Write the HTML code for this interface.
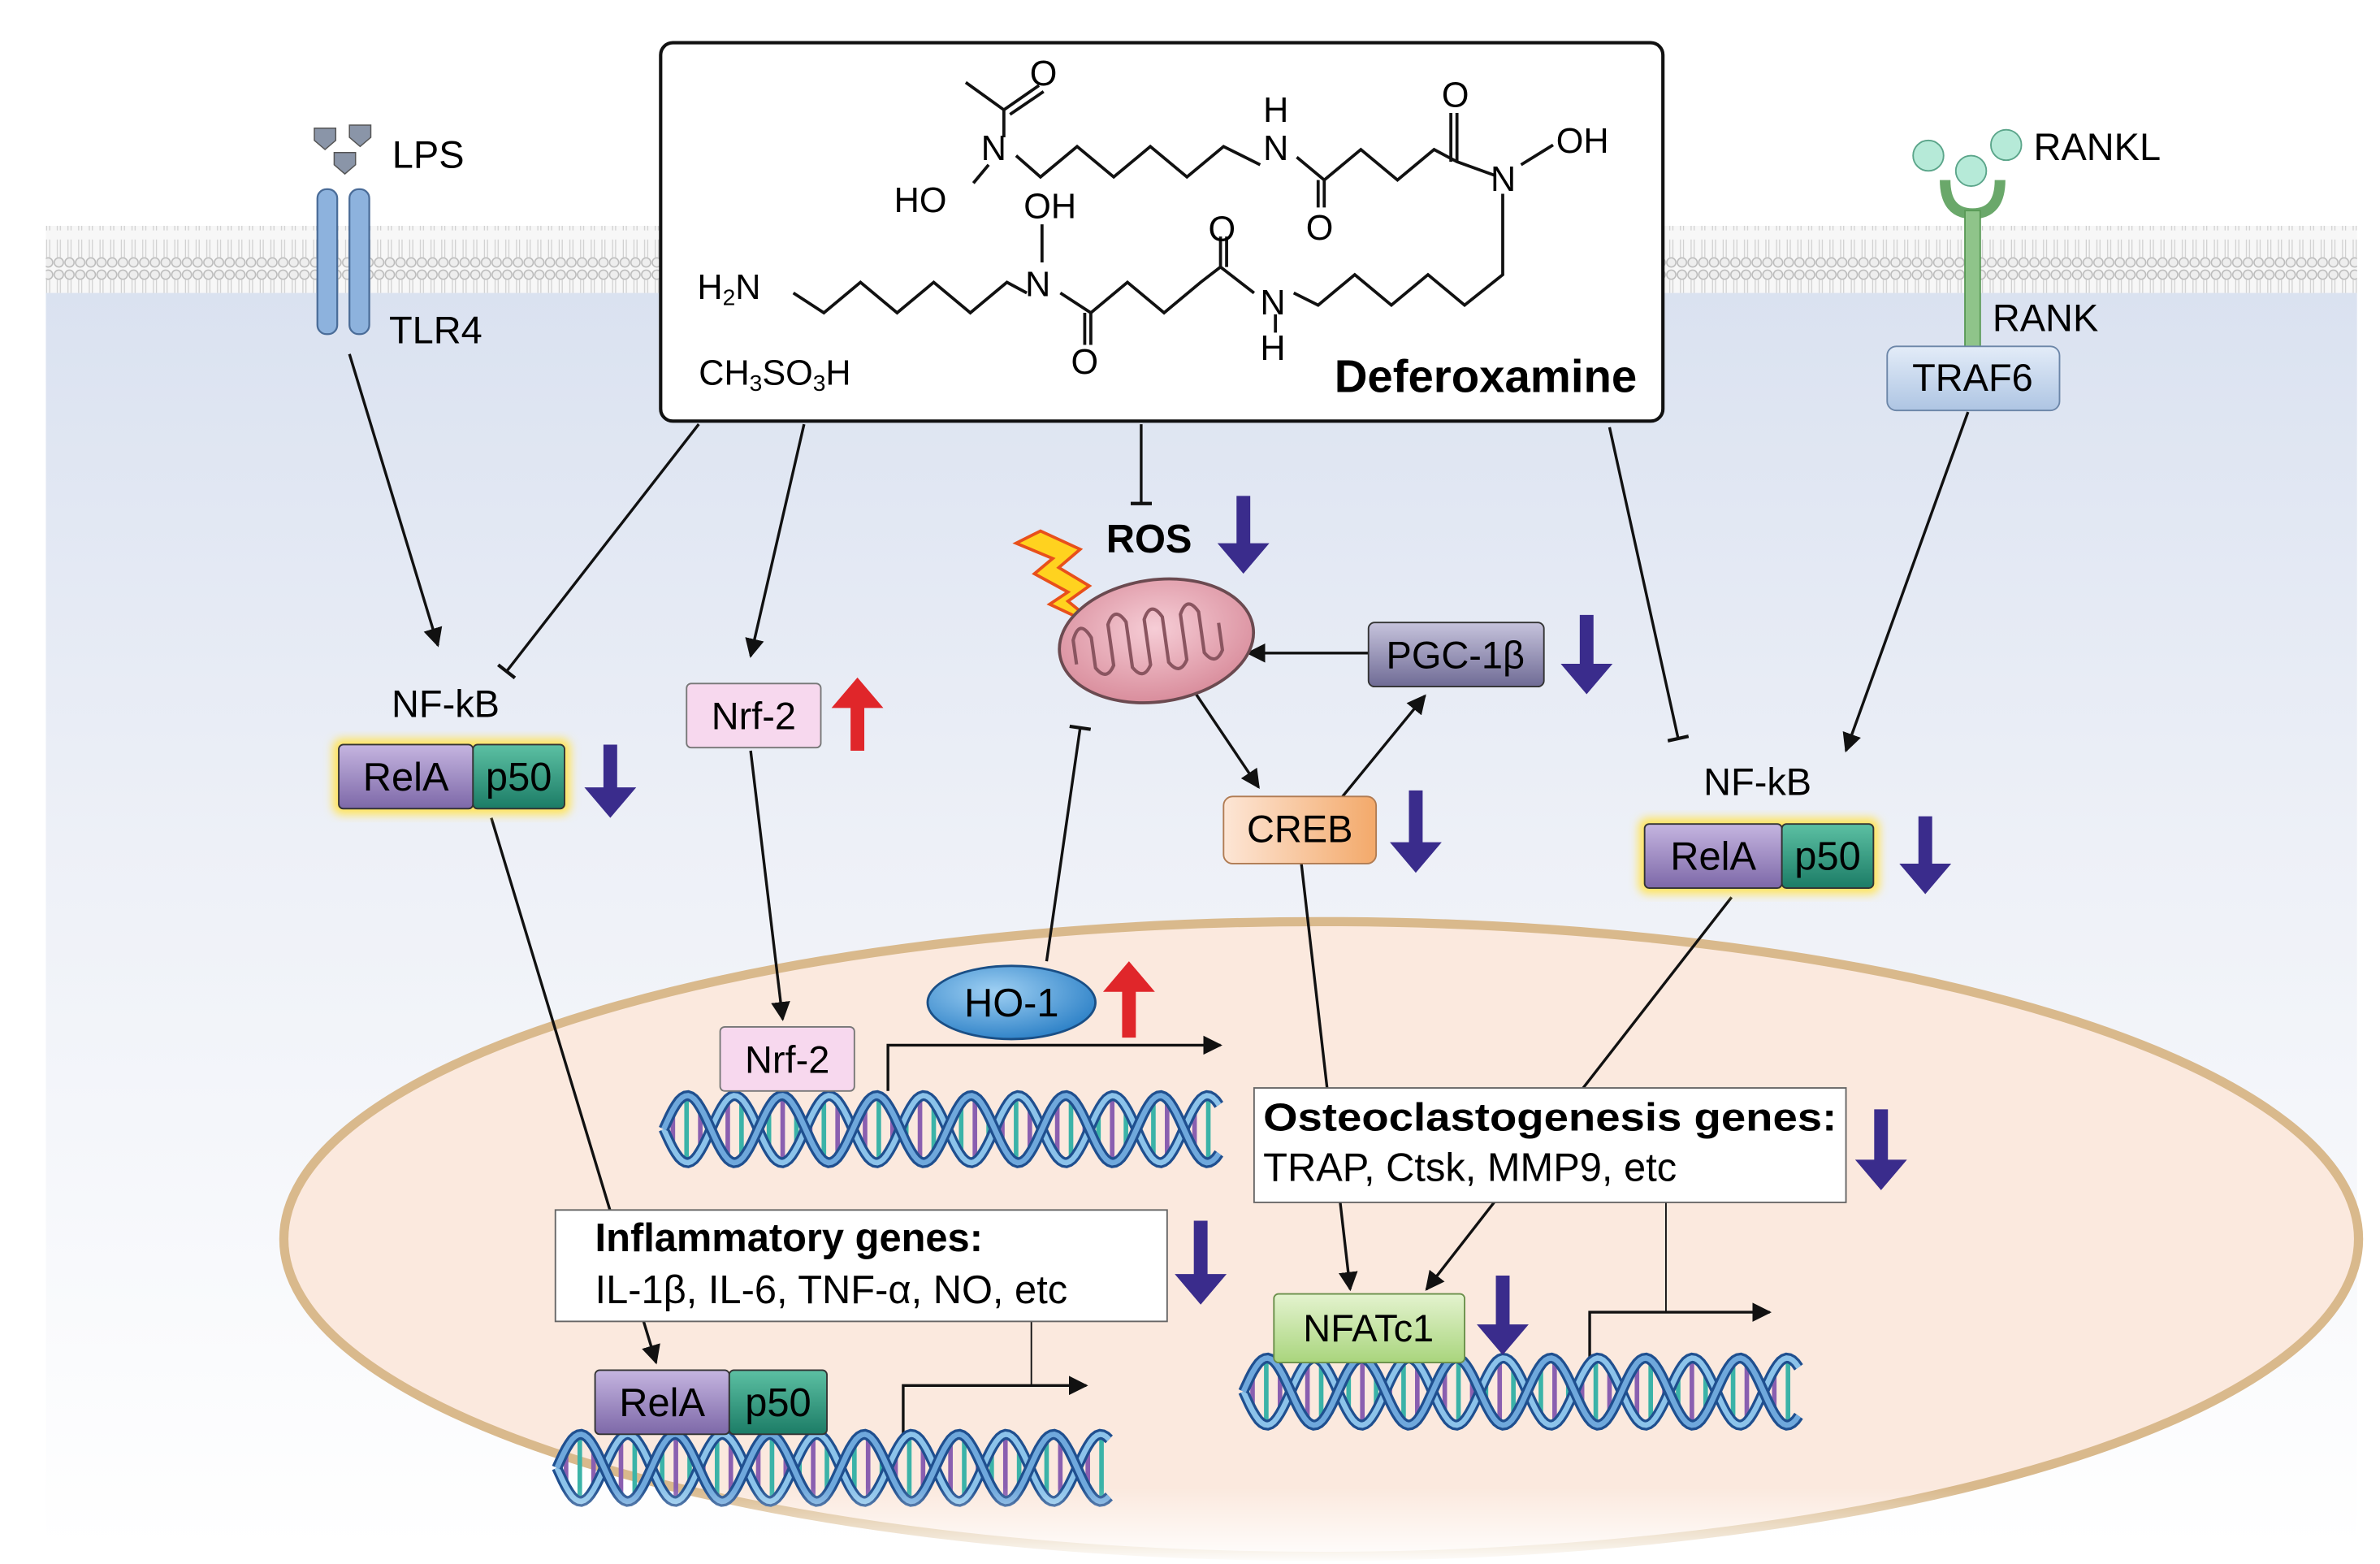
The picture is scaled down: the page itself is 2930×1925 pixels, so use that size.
<!DOCTYPE html>
<html><head><meta charset="utf-8"><style>
html,body{margin:0;padding:0;background:#fff}
svg{display:block}
text{font-family:"Liberation Sans",sans-serif}
</style></head><body>
<svg id="s" width="2930" height="1925" viewBox="0 0 1560 1025" xmlns="http://www.w3.org/2000/svg">
<defs>
<linearGradient id="cyto" x1="0" y1="0" x2="0" y2="1">
<stop offset="0" stop-color="#d9e1f0"/><stop offset="0.45" stop-color="#edf0f7"/><stop offset="1" stop-color="#ffffff"/>
</linearGradient>
<linearGradient id="fade" x1="0" y1="0" x2="0" y2="1"><stop offset="0" stop-color="#fff" stop-opacity="0"/><stop offset="1" stop-color="#fff" stop-opacity="1"/></linearGradient>
<linearGradient id="pgc" x1="0" y1="0" x2="0" y2="1"><stop offset="0" stop-color="#c6c3dc"/><stop offset="1" stop-color="#6f6b95"/></linearGradient>
<linearGradient id="creb" x1="0" y1="0" x2="1" y2="0"><stop offset="0" stop-color="#fde6d6"/><stop offset="1" stop-color="#f3a96a"/></linearGradient>
<linearGradient id="nfat" x1="0" y1="0" x2="0" y2="1"><stop offset="0" stop-color="#e4f3cf"/><stop offset="1" stop-color="#a9d57d"/></linearGradient>
<linearGradient id="rela" x1="0" y1="0" x2="0" y2="1"><stop offset="0" stop-color="#c5b5e0"/><stop offset="1" stop-color="#7d68a8"/></linearGradient>
<linearGradient id="p50" x1="0" y1="0" x2="0" y2="1"><stop offset="0" stop-color="#5cc0a3"/><stop offset="1" stop-color="#1c7c66"/></linearGradient>
<linearGradient id="traf" x1="0" y1="0" x2="0" y2="1"><stop offset="0" stop-color="#e3ecf8"/><stop offset="1" stop-color="#aec5e3"/></linearGradient>
<radialGradient id="ho" cx="0.4" cy="0.35" r="0.7"><stop offset="0" stop-color="#9fd0f3"/><stop offset="1" stop-color="#2a7fc6"/></radialGradient>
<radialGradient id="mito" cx="0.5" cy="0.4" r="0.6"><stop offset="0" stop-color="#f6cdd6"/><stop offset="1" stop-color="#d98d9c"/></radialGradient>
<marker id="ar" viewBox="0 0 10 10" refX="9" refY="5" markerWidth="7" markerHeight="7" orient="auto"><path d="M0,0L10,5L0,10z" fill="#111"/></marker>
<marker id="tee" viewBox="0 0 10 10" refX="5" refY="5" markerWidth="14" markerHeight="14" orient="auto" markerUnits="userSpaceOnUse"><path d="M5,0V10" stroke="#111" stroke-width="1.6"/></marker>
<filter id="glow"><feGaussianBlur stdDeviation="3"/></filter>
<pattern id="lip" width="7" height="44" patternUnits="userSpaceOnUse">
<circle cx="3.5" cy="4" r="3" fill="#eee" stroke="#bbb" stroke-width="0.8"/>
<circle cx="3.5" cy="40" r="3" fill="#eee" stroke="#bbb" stroke-width="0.8"/>
<path d="M2.5,7V19M4.5,7V19M2.5,25V37M4.5,25V37" stroke="#ccc" stroke-width="0.6"/>
</pattern>
</defs>
<rect x="30" y="170" width="1515" height="845" fill="url(#cyto)"/>
<rect x="30" y="148" width="1515" height="44" fill="#f7f7f7"/>
<rect x="30" y="148" width="1515" height="44" fill="url(#lip)"/>
<ellipse cx="866" cy="812" rx="680" ry="208" fill="#fbe9de" stroke="#d9b98c" stroke-width="6"/>

<!-- LPS / TLR4 -->
<g fill="#8a95a8" stroke="#555" stroke-width="0.8">
<path d="M206,84h14v8l-7,6l-7,-6z"/><path d="M229,82h14v8l-7,6l-7,-6z"/><path d="M219,100h14v8l-7,6l-7,-6z"/>
</g>
<text x="257" y="110" font-size="25">LPS</text>
<rect x="208" y="124" width="13" height="95" rx="6" fill="#8db2dd" stroke="#4a6c98" stroke-width="1.2"/>
<rect x="229" y="124" width="13" height="95" rx="6" fill="#8db2dd" stroke="#4a6c98" stroke-width="1.2"/>
<text x="255" y="225" font-size="25">TLR4</text>

<!-- RANKL / RANK -->
<circle cx="1264" cy="102" r="10" fill="#b6ead8" stroke="#5ba58a"/><circle cx="1292" cy="112" r="10" fill="#b6ead8" stroke="#5ba58a"/><circle cx="1315" cy="95" r="10" fill="#b6ead8" stroke="#5ba58a"/>
<text x="1333" y="105" font-size="25">RANKL</text>
<path d="M1275,118 q0,22 18,22 q18,0 18,-22" fill="none" stroke="#6aa86a" stroke-width="7"/>
<rect x="1288" y="138" width="10" height="92" fill="#8fc48a" stroke="#5a9a57"/>
<text x="1306" y="217" font-size="25">RANK</text>
<rect x="1237" y="227" width="113" height="42" rx="6" fill="url(#traf)" stroke="#6c86a8"/>
<text x="1293" y="256" font-size="25" text-anchor="middle">TRAF6</text>

<!-- Deferoxamine box -->
<rect x="433" y="28" width="657" height="248" rx="8" fill="#fff" stroke="#111" stroke-width="2.2"/>
<g fill="none" stroke="#111" stroke-width="2">
<path d="M633,54 L658,72 L681,56 M662,75 L684,60 M658,72 L658,90"/>
<path d="M648,108 L638,120"/>
<path d="M666,102 L682,116 L706,96 L730,116 L754,96 L778,116 L802,96 L826,108"/>
<path d="M850,103 L868,118 L892,98 L916,118 L940,98 L955,106 L980,115"/>
<path d="M868,118 V136 M864,118 V136"/>
<path d="M955,106 V74 M951,106 V74"/>
<path d="M997,108 L1018,95"/>
<path d="M985,127 V180 L960,200 L936,180 L912,200 L888,180 L864,200 L848,192"/>
<path d="M520,192 L540,205 L564,185 L588,205 L612,185 L636,205 L660,185 L673,192"/>
<path d="M683,147 V172"/>
<path d="M695,192 L715,205 L739,185 L763,205 L787,185 L800,175 L822,192"/>
<path d="M715,205 V226 M711,205 V226"/>
<path d="M800,175 V155 M804,175 V155"/>
<path d="M836,206 V218"/>
</g>
<g font-size="23">
<text x="675" y="56">O</text>
<text x="643" y="105">N</text>
<text x="586" y="139">HO</text>
<text x="828" y="80">H</text>
<text x="828" y="105">N</text>
<text x="856" y="157">O</text>
<text x="945" y="70">O</text>
<text x="977" y="125">N</text>
<text x="1020" y="100">OH</text>
<text x="671" y="143">OH</text>
<text x="672" y="194">N</text>
<text x="457" y="196">H<tspan font-size="15" dy="4">2</tspan><tspan dy="-4">N</tspan></text>
<text x="702" y="245">O</text>
<text x="792" y="158">O</text>
<text x="826" y="206">N</text>
<text x="826" y="236">H</text>
<text x="458" y="252">CH<tspan font-size="15" dy="4">3</tspan><tspan dy="-4">SO</tspan><tspan font-size="15" dy="4">3</tspan><tspan dy="-4">H</tspan></text>
</g>
<text x="1073" y="257" font-size="30" font-weight="bold" text-anchor="end">Deferoxamine</text>

<!-- connectors -->
<g stroke="#111" stroke-width="1.8" fill="none">
<path d="M229,232 L287,423" marker-end="url(#ar)"/>
<path d="M458,278 L332,440" marker-end="url(#tee)"/>
<path d="M527,278 L492,430" marker-end="url(#ar)"/>
<path d="M748,278 V330" marker-end="url(#tee)"/>
<path d="M1055,280 L1100,484" marker-end="url(#tee)"/>
<path d="M1290,270 L1210,492" marker-end="url(#ar)"/>
<path d="M492,492 L513,668" marker-end="url(#ar)"/>
<path d="M322,536 L430,893" marker-end="url(#ar)"/>
<path d="M686,630 L708,477" marker-end="url(#tee)"/>
<path d="M897,428 H818" marker-end="url(#ar)"/>
<path d="M782,452 L825,516" marker-end="url(#ar)"/>
<path d="M880,522 L934,456" marker-end="url(#ar)"/>
<path d="M853,566 L885,845" marker-end="url(#ar)"/>
<path d="M1135,588 L935,845" marker-end="url(#ar)"/>
<path d="M582,715 V685 H800" marker-end="url(#ar)"/>
<path d="M592,940 V908 H712" marker-end="url(#ar)"/>
<path d="M676,866 V908" stroke-width="1"/>
<path d="M1042,892 V860 H1160" marker-end="url(#ar)"/>
<path d="M1092,788 V860" stroke-width="1"/>
</g>

<!-- DNA -->
<g id="dna"></g>

<!-- NF-kB left -->
<text x="292" y="470" font-size="25" text-anchor="middle">NF-kB</text>
<rect x="218" y="484" width="156" height="50" rx="6" fill="#ffe45c" filter="url(#glow)"/>
<rect x="222" y="488" width="88" height="42" rx="3" fill="url(#rela)" stroke="#333"/>
<rect x="310" y="488" width="60" height="42" rx="3" fill="url(#p50)" stroke="#333"/>
<text x="266" y="518" font-size="26" text-anchor="middle">RelA</text>
<text x="340" y="518" font-size="26" text-anchor="middle">p50</text>

<!-- NF-kB right -->
<text x="1152" y="521" font-size="25" text-anchor="middle">NF-kB</text>
<rect x="1074" y="536" width="158" height="50" rx="6" fill="#ffe45c" filter="url(#glow)"/>
<rect x="1078" y="540" width="90" height="42" rx="3" fill="url(#rela)" stroke="#333"/>
<rect x="1168" y="540" width="60" height="42" rx="3" fill="url(#p50)" stroke="#333"/>
<text x="1123" y="570" font-size="26" text-anchor="middle">RelA</text>
<text x="1198" y="570" font-size="26" text-anchor="middle">p50</text>

<!-- Nrf-2 -->
<rect x="450" y="448" width="88" height="42" rx="3" fill="#f7d8ee" stroke="#777"/>
<text x="494" y="478" font-size="25" text-anchor="middle">Nrf-2</text>
<rect x="472" y="673" width="88" height="42" rx="3" fill="#f7d8ee" stroke="#777"/>
<text x="516" y="703" font-size="25" text-anchor="middle">Nrf-2</text>

<!-- HO-1 -->
<ellipse cx="663" cy="657" rx="55" ry="24" fill="url(#ho)" stroke="#1a4f86" stroke-width="1.5"/>
<text x="663" y="666" font-size="26" text-anchor="middle">HO-1</text>

<!-- ROS / mito -->
<text x="725" y="362" font-size="26" font-weight="bold">ROS</text>
<path d="M682,348 L708,360 L694,372 L714,384 L700,394 L722,412 L688,396 L700,388 L678,376 L690,366 L666,356z" fill="#ffd21f" stroke="#e8501b" stroke-width="2"/>
<g transform="rotate(-8 758 420)">
<ellipse cx="758" cy="420" rx="64" ry="40" fill="url(#mito)" stroke="#6b4a50" stroke-width="2"/>
<path d="M704,428 V412 q6,-14 12,0 V432 q6,10 12,0 V405 q6,-12 12,0 V435 q6,10 12,0 V405 q6,-12 12,0 V435 q6,10 12,0 V405 q6,-12 12,0 V432 q6,10 12,0 V414" fill="none" stroke="#8a5560" stroke-width="2.2"/>
</g>

<!-- PGC-1b -->
<rect x="897" y="408" width="115" height="42" rx="4" fill="url(#pgc)" stroke="#333"/>
<text x="954" y="438" font-size="25" text-anchor="middle">PGC-1β</text>
<!-- CREB -->
<rect x="802" y="522" width="100" height="44" rx="6" fill="url(#creb)" stroke="#b07b52"/>
<text x="852" y="552" font-size="25" text-anchor="middle">CREB</text>

<!-- Osteo box -->
<rect x="822" y="713" width="388" height="75" fill="#fff" stroke="#666"/>
<text x="828" y="741" font-size="25.5" font-weight="bold" textLength="376" lengthAdjust="spacingAndGlyphs">Osteoclastogenesis genes:</text>
<text x="828" y="774" font-size="26">TRAP, Ctsk, MMP9, etc</text>
<!-- Inflammatory box -->
<rect x="364" y="793" width="401" height="73" fill="#fff" stroke="#666"/>
<text x="390" y="820" font-size="26" font-weight="bold">Inflammatory genes:</text>
<text x="390" y="854" font-size="26">IL-1β, IL-6, TNF-α, NO, etc</text>

<!-- NFATc1 -->
<rect x="835" y="848" width="125" height="45" rx="3" fill="url(#nfat)" stroke="#6a8f4a"/>
<text x="897" y="879" font-size="25" text-anchor="middle">NFATc1</text>
<!-- RelA bottom -->
<rect x="390" y="898" width="88" height="42" rx="3" fill="url(#rela)" stroke="#333"/>
<rect x="478" y="898" width="64" height="42" rx="3" fill="url(#p50)" stroke="#333"/>
<text x="434" y="928" font-size="26" text-anchor="middle">RelA</text>
<text x="510" y="928" font-size="26" text-anchor="middle">p50</text>

<!-- arrows up/down -->
<g id="arrs"></g>
<rect x="0" y="975" width="1560" height="50" fill="url(#fade)"/>
</svg>
<script>
var NS="http://www.w3.org/2000/svg";
function el(p,t,a){var e=document.createElementNS(NS,t);for(var k in a)e.setAttribute(k,a[k]);p.appendChild(e);return e;}
var d=document.getElementById('dna');
function dna(x0,x1,yc,A){
 var per=62;
 for(var x=x0+6;x<x1;x+=9){
  var y1=yc+A*Math.sin((x-x0)/per*2*Math.PI), y2=yc-A*Math.sin((x-x0)/per*2*Math.PI);
  el(d,'line',{x1:x,y1:Math.min(y1,y2),x2:x,y2:Math.max(y1,y2),stroke:(Math.floor(x/9)%2?'#8a5fb0':'#3bb3a8'),'stroke-width':3});
 }
 [0,Math.PI].forEach(function(ph,i){
  var s='';for(var x=x0;x<=x1;x+=2){var y=yc+A*Math.sin((x-x0)/per*2*Math.PI+ph);s+=(x==x0?'M':'L')+x+','+y.toFixed(1);}
  el(d,'path',{d:s,fill:'none',stroke:'#1f4f8f','stroke-width':7});
  el(d,'path',{d:s,fill:'none',stroke:i?'#6fa8dc':'#8cc3ea','stroke-width':3.5});
 });
}
dna(435,800,740,22);dna(815,1180,912,22);dna(365,728,962,22);
var g=document.getElementById('arrs');
function arr(x,y1,y2,c){var w=9,hw=17,hl=20;var up=y2<y1;
 var s=up?('M'+(x-w/2)+','+y1+'V'+(y2+hl)+'H'+(x-hw)+'L'+x+','+y2+'L'+(x+hw)+','+(y2+hl)+'H'+(x+w/2)+'V'+y1+'z')
 :('M'+(x-w/2)+','+y1+'V'+(y2-hl)+'H'+(x-hw)+'L'+x+','+y2+'L'+(x+hw)+','+(y2-hl)+'H'+(x+w/2)+'V'+y1+'z');
 el(g,'path',{d:s,fill:c});}
var B='#3a2c8c',R='#e0262a';
arr(400,488,536,B);arr(562,492,444,R);arr(740,680,630,R);arr(815,325,376,B);
arr(1040,403,455,B);arr(928,518,572,B);arr(1262,535,586,B);arr(1233,727,780,B);
arr(787,800,855,B);arr(985,836,888,B);
</script>
</body></html>
